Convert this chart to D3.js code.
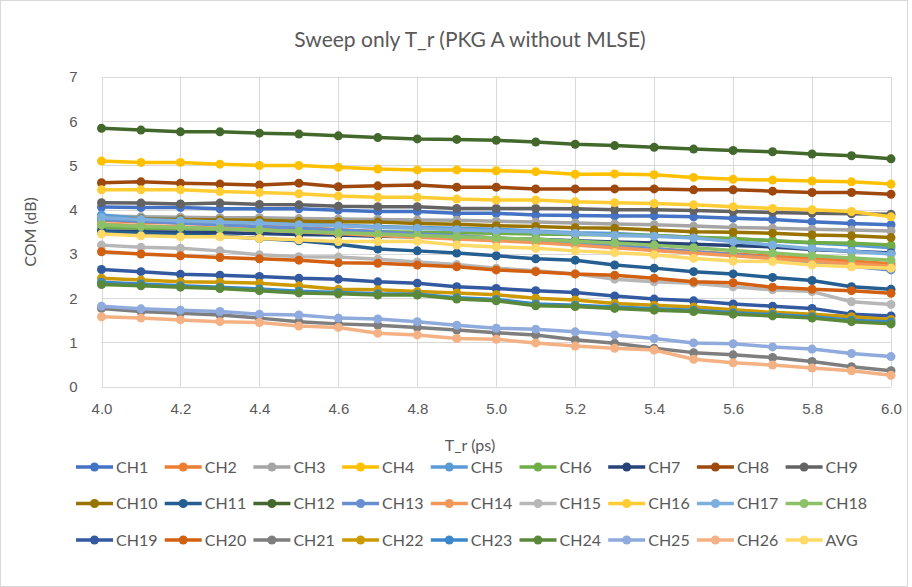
<!DOCTYPE html>
<html>
<head>
<meta charset="utf-8">
<script src="https://cdn.jsdelivr.net/npm/d3@7"></script>
<style>
  body { margin: 0; background: #fff; }
  svg { font-family: Lato, "Open Sans", sans-serif; }
  .grid line { stroke: #d9d9d9; stroke-width: 1; }
  .tick text { fill: #595959; font-size: 15px; }
</style>
</head>
<body>
<svg width="912" height="587"></svg>
<script>
var tr = [4.0, 4.1, 4.2, 4.3, 4.4, 4.5, 4.6, 4.7, 4.8, 4.9, 5.0, 5.1, 5.2, 5.3, 5.4, 5.5, 5.6, 5.7, 5.8, 5.9, 6.0];

var ch1  = [4.06,4.05,4.05,4.02,4.02,4.02,3.99,3.96,3.96,3.92,3.92,3.88,3.87,3.86,3.86,3.84,3.81,3.78,3.73,3.69,3.66];
var ch2  = [3.76,3.72,3.70,3.66,3.62,3.60,3.55,3.50,3.45,3.40,3.36,3.30,3.25,3.17,3.12,3.05,3.00,2.95,2.90,2.84,2.78];
var ch3  = [3.86,3.84,3.83,3.82,3.82,3.80,3.79,3.78,3.77,3.76,3.74,3.72,3.70,3.68,3.66,3.63,3.60,3.58,3.56,3.54,3.52];
var ch4  = [5.10,5.07,5.07,5.03,5.00,5.00,4.96,4.92,4.90,4.90,4.88,4.86,4.80,4.81,4.79,4.73,4.69,4.67,4.65,4.63,4.58];
var ch5  = [3.88,3.80,3.78,3.74,3.72,3.68,3.65,3.62,3.60,3.58,3.56,3.52,3.48,3.46,3.42,3.38,3.34,3.30,3.25,3.20,3.14];
var ch6  = [3.60,3.58,3.57,3.56,3.55,3.53,3.52,3.50,3.49,3.48,3.47,3.45,3.44,3.43,3.42,3.38,3.35,3.30,3.26,3.24,3.20];
var ch7  = [3.52,3.50,3.49,3.48,3.46,3.44,3.43,3.40,3.39,3.37,3.35,3.33,3.30,3.27,3.25,3.22,3.19,3.16,3.10,3.06,3.02];
var ch8  = [4.61,4.63,4.60,4.58,4.56,4.60,4.52,4.54,4.56,4.51,4.51,4.47,4.47,4.47,4.47,4.45,4.45,4.42,4.39,4.39,4.35];
var ch9  = [4.16,4.15,4.13,4.15,4.12,4.11,4.08,4.07,4.07,4.03,4.03,4.03,4.02,4.00,4.00,3.98,3.96,3.94,3.92,3.91,3.90];
var ch10 = [3.80,3.79,3.78,3.77,3.76,3.74,3.73,3.72,3.69,3.67,3.64,3.62,3.59,3.58,3.54,3.50,3.49,3.47,3.43,3.41,3.37];
var ch11 = [3.50,3.47,3.44,3.40,3.35,3.30,3.22,3.11,3.07,3.02,2.96,2.89,2.86,2.75,2.68,2.60,2.55,2.47,2.40,2.26,2.20];
var ch12 = [5.84,5.80,5.76,5.76,5.73,5.71,5.67,5.63,5.60,5.59,5.57,5.53,5.48,5.45,5.41,5.37,5.34,5.31,5.26,5.22,5.15];
var ch13 = [3.78,3.74,3.70,3.66,3.62,3.58,3.54,3.50,3.45,3.41,3.36,3.32,3.26,3.20,3.12,3.05,2.98,2.90,2.80,2.72,2.64];
var ch14 = [3.68,3.64,3.61,3.58,3.54,3.50,3.46,3.42,3.38,3.34,3.30,3.26,3.20,3.14,3.08,3.02,2.96,2.90,2.84,2.78,2.72];
var ch15 = [3.20,3.15,3.13,3.07,2.98,2.94,2.93,2.88,2.82,2.76,2.68,2.62,2.55,2.43,2.37,2.34,2.26,2.19,2.15,1.92,1.86];
var ch16 = [4.45,4.45,4.45,4.41,4.39,4.36,4.31,4.28,4.28,4.24,4.22,4.22,4.18,4.16,4.14,4.11,4.07,4.03,4.00,3.96,3.84];
var ch17 = [3.82,3.78,3.75,3.72,3.70,3.66,3.64,3.60,3.58,3.55,3.52,3.50,3.46,3.42,3.40,3.36,3.28,3.20,3.12,3.06,3.00];
var ch18 = [3.66,3.62,3.60,3.57,3.54,3.51,3.48,3.45,3.42,3.39,3.36,3.33,3.29,3.25,3.20,3.14,3.08,3.02,2.96,2.91,2.86];
var ch19 = [2.65,2.60,2.54,2.52,2.49,2.45,2.43,2.37,2.34,2.26,2.22,2.17,2.13,2.05,1.98,1.94,1.87,1.82,1.77,1.64,1.60];
var ch20 = [3.05,3.00,2.96,2.92,2.89,2.86,2.80,2.79,2.75,2.71,2.64,2.60,2.55,2.52,2.45,2.37,2.35,2.25,2.20,2.17,2.11];
var ch21 = [1.77,1.70,1.66,1.62,1.55,1.47,1.42,1.39,1.34,1.28,1.22,1.17,1.06,0.98,0.87,0.77,0.72,0.66,0.57,0.45,0.36];
var ch22 = [2.45,2.41,2.37,2.36,2.34,2.28,2.20,2.19,2.15,2.12,2.08,2.00,1.96,1.88,1.84,1.80,1.74,1.68,1.64,1.58,1.52];
var ch23 = [2.36,2.32,2.28,2.25,2.21,2.16,2.13,2.10,2.09,2.01,1.97,1.87,1.84,1.80,1.76,1.73,1.67,1.63,1.58,1.50,1.46];
var ch24 = [2.31,2.28,2.25,2.22,2.17,2.12,2.10,2.07,2.07,1.98,1.94,1.83,1.81,1.77,1.73,1.70,1.64,1.60,1.55,1.47,1.42];
var ch25 = [1.82,1.76,1.73,1.70,1.64,1.62,1.55,1.53,1.47,1.39,1.32,1.30,1.24,1.17,1.09,0.99,0.97,0.90,0.85,0.75,0.68];
var ch26 = [1.58,1.55,1.51,1.47,1.45,1.37,1.34,1.21,1.17,1.09,1.07,0.99,0.92,0.87,0.83,0.62,0.54,0.49,0.42,0.36,0.26];
var avg  = [3.45,3.41,3.39,3.39,3.35,3.32,3.28,3.28,3.29,3.20,3.16,3.13,3.07,3.03,2.98,2.90,2.84,2.83,2.75,2.71,2.68];

var names = ["CH1","CH2","CH3","CH4","CH5","CH6","CH7","CH8","CH9","CH10","CH11","CH12","CH13",
             "CH14","CH15","CH16","CH17","CH18","CH19","CH20","CH21","CH22","CH23","CH24","CH25","CH26","AVG"];
var values = [ch1,ch2,ch3,ch4,ch5,ch6,ch7,ch8,ch9,ch10,ch11,ch12,ch13,ch14,ch15,ch16,ch17,ch18,
              ch19,ch20,ch21,ch22,ch23,ch24,ch25,ch26,avg];
var colors = ["#4472c4","#ed7d31","#a5a5a5","#ffc000","#5b9bd5","#70ad47","#264478","#9e480e","#636363",
              "#997300","#255e91","#43682b","#698ed0","#f1975a","#b7b7b7","#ffcd33","#7cafdd","#8cc168",
              "#335aa1","#d26012","#7e7e7e","#cc9a00","#3a87cc","#5a8a39","#8faadc","#f4b183","#ffd966"];
var xTicks = [4.0, 4.2, 4.4, 4.6, 4.8, 5.0, 5.2, 5.4, 5.6, 5.8, 6.0];
var yTicks = [0, 1, 2, 3, 4, 5, 6, 7];

var series = names.map(function(n, i) {
  return { name: n, color: colors[i], pts: tr.map(function(t, j) { return [t, values[i][j]]; }) };
});

var svg = d3.select("svg");

svg.append("rect")
   .attr("x", 0.5).attr("y", 0.5).attr("width", 907).attr("height", 586)
   .attr("fill", "#fff").attr("stroke", "#d9d9d9");

var x = d3.scaleLinear().domain([4, 6]).range([101.5, 891]);
var y = d3.scaleLinear().domain([0, 7]).range([386.7, 77]);

// gridlines
svg.append("g").attr("class", "grid")
   .selectAll("line.h").data(yTicks).enter().append("line")
   .attr("x1", x(4)).attr("x2", x(6))
   .attr("y1", d => Math.round(y(d)) + 0.5).attr("y2", d => Math.round(y(d)) + 0.5);
svg.append("g").attr("class", "grid")
   .selectAll("line.v").data(xTicks).enter().append("line")
   .attr("y1", y(0)).attr("y2", y(7))
   .attr("x1", d => Math.round(x(d)) + 0.5).attr("x2", d => Math.round(x(d)) + 0.5);

// axes (labels only)
var xAxis = svg.append("g")
   .attr("transform", "translate(0," + (y(0) + 9) + ")")
   .call(d3.axisBottom(x).tickValues(xTicks).tickFormat(d3.format(".1f")).tickSize(0).tickPadding(8));
var yAxis = svg.append("g")
   .attr("transform", "translate(" + (x(4) - 16) + ",0)")
   .call(d3.axisLeft(y).tickValues(yTicks).tickFormat(d3.format("d")).tickSize(0).tickPadding(8));
xAxis.select(".domain").remove();
yAxis.select(".domain").remove();

// series
var line = d3.line().x(d => x(d[0])).y(d => y(d[1]));
var g = svg.selectAll("g.series").data(series).enter().append("g").attr("class", "series");
g.append("path")
  .attr("d", d => line(d.pts))
  .attr("fill", "none")
  .attr("stroke", d => d.color)
  .attr("stroke-width", 3.5)
  .attr("stroke-linejoin", "round");
g.selectAll("circle").data(d => d.pts.map(p => ({ p: p, c: d.color }))).enter().append("circle")
  .attr("cx", d => x(d.p[0])).attr("cy", d => y(d.p[1]))
  .attr("r", 4.5)
  .attr("fill", d => d.c);

// titles
svg.append("text")
   .attr("x", 470).attr("y", 47).attr("text-anchor", "middle")
   .attr("fill", "#595959").attr("font-size", 21)
   .text("Sweep only T_r (PKG A without MLSE)");
svg.append("text")
   .attr("x", 470).attr("y", 451).attr("text-anchor", "middle")
   .attr("fill", "#595959").attr("font-size", 16)
   .text("T_r (ps)");
svg.append("text")
   .attr("transform", "translate(36,232) rotate(-90)").attr("text-anchor", "middle")
   .attr("fill", "#595959").attr("font-size", 16)
   .text("COM (dB)");

// legend
var leg = svg.selectAll("g.leg").data(series).enter().append("g").attr("class", "leg")
   .attr("transform", (d, i) => "translate(" + (76 + (i % 9) * 88.7) + "," + (467 + Math.floor(i / 9) * 36.5) + ")");
leg.append("line").attr("x1", 0).attr("x2", 37).attr("y1", 0).attr("y2", 0)
   .attr("stroke", d => d.color).attr("stroke-width", 3.5);
leg.append("circle").attr("cx", 18.5).attr("cy", 0).attr("r", 4.5).attr("fill", d => d.color);
leg.append("text").attr("x", 40).attr("y", 0).attr("dy", "0.35em")
   .attr("fill", "#595959").attr("font-size", 16)
   .text(d => d.name);
</script>
</body>
</html>
